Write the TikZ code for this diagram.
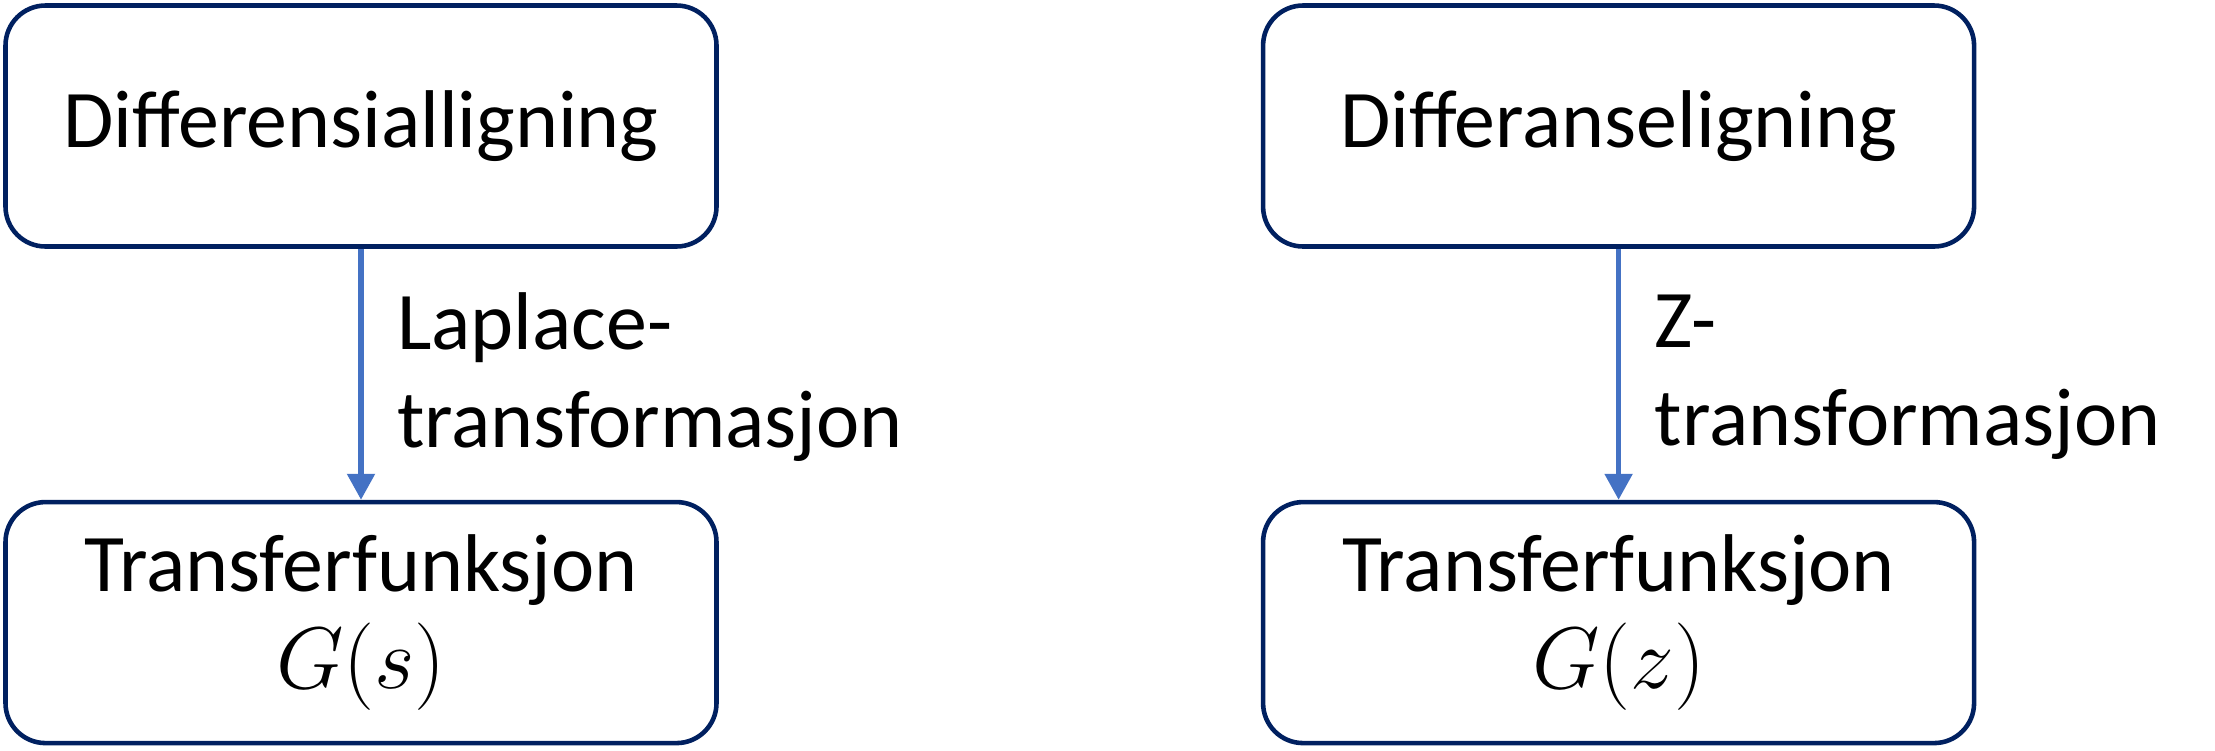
\documentclass[tikz,border=0pt]{standalone}
\usepackage{fontspec}
\setmainfont{Carlito}
\usetikzlibrary{positioning,arrows.meta}
\definecolor{boxline}{RGB}{0,32,96}
\definecolor{arrowcol}{RGB}{68,114,196}
\tikzset{
  eqbox/.style={draw=boxline,line width=1.3pt,rounded corners=4mm,fill=white,
    minimum width=7.11cm,minimum height=2.41cm,align=center,
    font=\fontsize{23.3}{27.8}\selectfont},
  trans/.style={draw=arrowcol,line width=1.5pt,-{Triangle[width=2.7mm,length=2.6mm]}},
  translabel/.style={align=left,font=\fontsize{23.3}{27.8}\selectfont},
}

\begin{document}
\begin{tikzpicture}[node distance=2.51cm and 5.42cm]
  \useasboundingbox (0,0) rectangle (22.15,-7.5);
  % continuous time
  \node[eqbox] (diffeq) at (3.61,-1.26) {Differensialligning};
  \node[eqbox,below=of diffeq] (tfs) {Transferfunksjon\\$G(s)$};
  % discrete time
  \node[eqbox,right=of diffeq] (diffz) {Differanseligning};
  \node[eqbox,below=of diffz] (tfz) {Transferfunksjon\\$G(z)$};
  \draw[trans] (diffeq) -- (tfs)
        node[translabel,midway,right=2.2mm,yshift=-0.3mm] {Laplace-\\transformasjon};
  \draw[trans] (diffz) -- (tfz)
        node[translabel,midway,right=2.2mm,yshift=-0.3mm] {Z-\\transformasjon};
\end{tikzpicture}
\end{document}
